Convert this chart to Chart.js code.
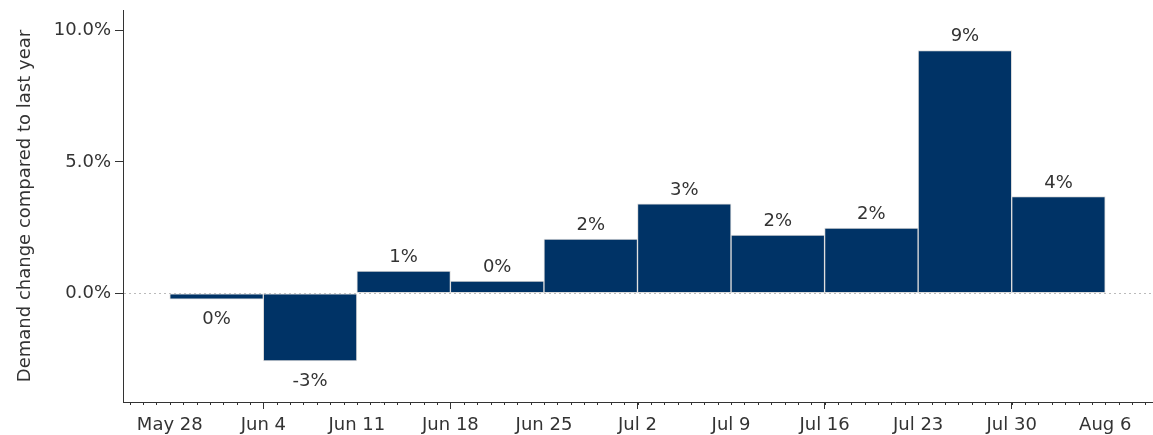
<!DOCTYPE html>
<html>
<head>
<meta charset="utf-8">
<script src="https://cdn.jsdelivr.net/npm/chart.js@4.4.1/dist/chart.umd.min.js"></script>
<style>
  html, body { margin: 0; padding: 0; background: #fff; }
</style>
</head>
<body>
<canvas id="demandChart" width="1153" height="435"></canvas>
<script>
// tick labels on the x axis, one per week (days counted from May 28)
var tickLabels = ['May 28', 'Jun 4', 'Jun 11', 'Jun 18', 'Jun 25', 'Jul 2', 'Jul 9', 'Jul 16', 'Jul 23', 'Jul 30', 'Aug 6'];
var tickDays   = [0, 7, 14, 21, 28, 35, 42, 49, 56, 63, 70];

// each bar covers one week, starting on these days
var weekStartDays = [0, 7, 14, 21, 28, 35, 42, 49, 56, 63];
var demandChange  = [-0.23, -2.58, 0.84, 0.46, 2.06, 3.40, 2.21, 2.48, 9.24, 3.68];

var yTicks = [0, 5, 10];

Chart.defaults.font.family = 'DejaVu Sans';
Chart.defaults.font.size = 18;
Chart.defaults.color = '#333';

var bars = weekStartDays.map(function (d, i) {
    return { x: d + 3.5, y: demandChange[i] };
});

// value labels above / below each bar, plus the small daily ticks
var extras = {
    id: 'extras',
    afterDatasetsDraw: function (chart) {
        var ctx = chart.ctx;
        var meta = chart.getDatasetMeta(0);
        ctx.save();
        ctx.font = '18px "DejaVu Sans"';
        ctx.fillStyle = '#333';
        ctx.textAlign = 'center';
        ctx.textBaseline = 'alphabetic';
        meta.data.forEach(function (bar, i) {
            var v = demandChange[i];
            var txt = String(Math.round(v)) + '%';
            if (v >= 0) {
                ctx.fillText(txt, bar.x, bar.y - 9);
            } else {
                ctx.fillText(txt, bar.x, bar.y + 25);
            }
        });
        ctx.restore();
    },
    afterDraw: function (chart) {
        var ctx = chart.ctx;
        var xs = chart.scales.x;
        ctx.save();
        ctx.strokeStyle = '#333';
        ctx.lineWidth = 1;
        ctx.beginPath();
        for (var d = Math.ceil(xs.min); d <= Math.floor(xs.max); d++) {
            var px = Math.round(xs.getPixelForValue(d)) + 0.5;
            ctx.moveTo(px, xs.top);
            ctx.lineTo(px, xs.top + 3);
        }
        ctx.stroke();
        ctx.restore();
    }
};

var ctx = document.getElementById('demandChart').getContext('2d');
new Chart(ctx, {
    type: 'bar',
    data: {
        datasets: [{
            data: bars,
            backgroundColor: '#003366',
            borderColor: '#dddddd',
            borderWidth: 1,
            borderSkipped: false,
            barPercentage: 1,
            categoryPercentage: 1
        }]
    },
    options: {
        responsive: false,
        animation: false,
        layout: { padding: { top: 10, right: 1, left: 0, bottom: 0 } },
        plugins: {
            legend: { display: false },
            tooltip: { enabled: false }
        },
        scales: {
            x: {
                type: 'linear',
                min: -3.5,
                max: 73.5,
                offset: false,
                afterBuildTicks: function (scale) {
                    scale.ticks = tickDays.map(function (d) { return { value: d }; });
                },
                afterFit: function (scale) { scale.height = 33; },
                ticks: {
                    autoSkip: false,
                    maxRotation: 0,
                    minRotation: 0,
                    padding: 6,
                    color: '#333',
                    callback: function (value) {
                        var k = tickDays.indexOf(value);
                        return k >= 0 ? tickLabels[k] : '';
                    }
                },
                grid: {
                    drawOnChartArea: false,
                    offset: false,
                    tickLength: 7,
                    tickColor: function (c) {
                        return (c.tick && c.tick.value % 14 === 7) ? '#333' : 'rgba(0,0,0,0)';
                    }
                },
                border: { display: true, color: '#333', width: 1 }
            },
            y: {
                min: -4.14,
                max: 10.78,
                afterBuildTicks: function (scale) {
                    scale.ticks = yTicks.map(function (v) { return { value: v }; });
                },
                afterFit: function (scale) {
                    scale.width = 123;
                    scale.paddingTop = 0;
                    scale.paddingBottom = 0;
                },
                ticks: {
                    padding: 4,
                    color: '#333',
                    font: { size: 18, lineHeight: 1 },
                    callback: function (value) { return value.toFixed(1) + '%'; }
                },
                title: {
                    display: true,
                    text: 'Demand change compared to last year',
                    color: '#333',
                    font: { size: 18 },
                    padding: { top: 15, bottom: 0 }
                },
                grid: {
                    drawOnChartArea: true,
                    tickLength: 8,
                    tickColor: '#333',
                    color: function (c) {
                        return (c.tick && c.tick.value === 0) ? '#bbbbbb' : 'rgba(0,0,0,0)';
                    }
                },
                border: { display: true, color: '#333', width: 1, dash: [2, 3] }
            }
        }
    },
    plugins: [extras]
});
</script>
</body>
</html>
